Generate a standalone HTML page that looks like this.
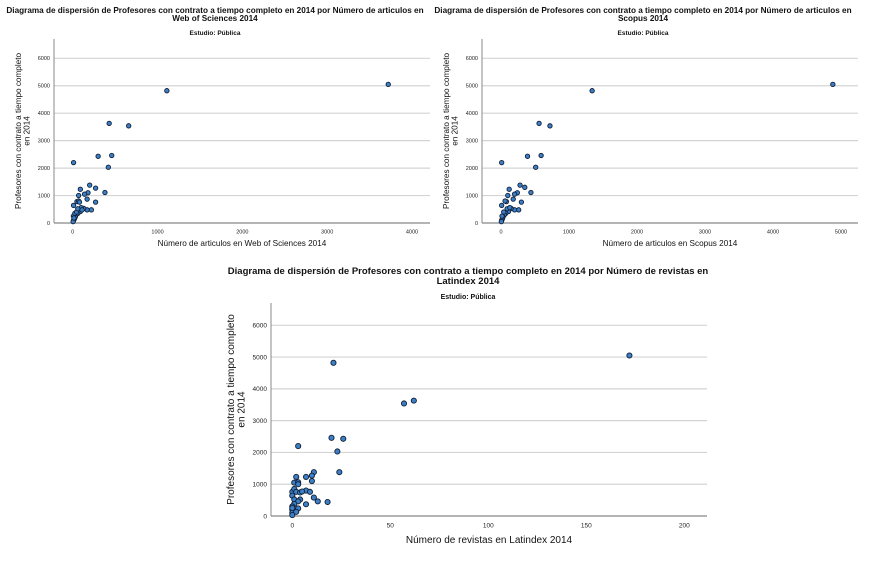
<!DOCTYPE html>
<html><head><meta charset="utf-8">
<style>
html,body{margin:0;padding:0;background:#fff;}
svg{display:block;font-family:"Liberation Sans",Arial,sans-serif;}
</style></head>
<body>
<svg id="root" width="890" height="575" viewBox="0 0 890 575"></svg>
<script>
// Chart 1: Web of Sciences
const wosX = [3720,1110,430,660,300,460,420,10,380,200,270,180,140,90,70,50,70,80,170,270,10,220,170,130,100,90,60,40,30,20,10,5,8,15,25,45,60,110];
const wosY = [5050,4820,3630,3540,2430,2460,2030,2200,1110,1380,1270,1100,1050,1230,1000,780,800,760,870,760,640,480,480,530,560,420,350,300,220,150,100,50,250,180,350,400,520,480];
const wosXTicks = [0,1000,2000,3000,4000];
// Chart 2: Scopus
const scoX = [4880,1340,560,720,390,590,510,10,440,280,350,240,200,120,100,80,60,180,300,10,260,200,150,110,70,50,30,20,10,5,15,40,90,130];
const scoY = [5050,4820,3630,3540,2430,2460,2030,2200,1110,1380,1300,1100,1050,1230,1000,780,800,870,760,640,480,480,530,420,350,300,220,150,100,50,250,400,520,560];
const scoXTicks = [0,1000,2000,3000,4000,5000];
// Chart 3: Latindex
const latX = [172,21,57,62,20,26,23,3,24,11,10,10,7,2,1,3,3,0,1,2,4,7,9,5,0,1,4,3,11,13,18,7,1,3,0,0,1,0,2,0,0];
const latY = [5050,4820,3540,3630,2460,2430,2030,2200,1380,1380,1270,1100,1230,1230,1050,1060,1000,760,850,760,740,800,760,770,640,520,520,460,580,460,440,370,380,240,300,200,150,100,130,30,250];
const latXTicks = [0,50,100,150,200];
const yTicks = [0,1000,2000,3000,4000,5000,6000];

const NS = "http://www.w3.org/2000/svg";
const root = document.getElementById('root');
function mk(tag, attrs, parent, text){
  const e = document.createElementNS(NS, tag);
  for (const k in attrs) e.setAttribute(k, attrs[k]);
  if (text !== undefined) e.textContent = text;
  (parent||root).appendChild(e);
  return e;
}

function chart(c, xs, ys, xTicks){
  const g = mk('g', {});
  
  
  const sx = v => c.x0 + (v - xTicks[0]) / (xTicks[xTicks.length-1] - xTicks[0]) * (c.x1 - c.x0);
  const sy = v => c.y0 - v / 6000 * (c.y0 - c.y6);
  // titles
  c.title.forEach((t, i) => {
    const e = mk('text', {x:c.cx, y:c.ty + i*c.tls, 'text-anchor':'middle', 'font-size':c.tfs, 'font-weight':'bold', fill:'#111'}, g, t);
    
    
  });
  const st = mk('text', {x:c.cx, y:c.sty, 'text-anchor':'middle', 'font-size':c.sfs, 'font-weight':'bold', fill:'#111'}, g, 'Estudio: Pública');
  
  
  // gridlines
  yTicks.forEach(v => {
    if (v > 0) {
      const l = mk('line', {x1:c.ax, x2:c.right, y1:sy(v), y2:sy(v), stroke:'#d4d4d4', 'stroke-width':1.2}, g);
      
      
    }
    const t = mk('text', {x:c.ax - 4, y:sy(v) + c.kfs*0.35, 'text-anchor':'end', 'font-size':c.kfs, fill:'#222'}, g, String(v));
    
    
  });
  // axes
  const ya = mk('line', {x1:c.ax, x2:c.ax, y1:c.atop, y2:c.y0, stroke:'#888', 'stroke-width':1}, g);
  
  
  const xa = mk('line', {x1:c.ax, x2:c.right, y1:c.y0, y2:c.y0, stroke:'#888', 'stroke-width':1.2}, g);
  
  
  xTicks.forEach(v => {
    const t = mk('text', {x:sx(v), y:c.y0 + c.kfs + 5, 'text-anchor':'middle', 'font-size':c.kfs, fill:'#222'}, g, String(v));
    
    
  });
  const xl = mk('text', {x:(c.ax + c.right)/2, y:c.xly, 'text-anchor':'middle', 'font-size':c.afs, fill:'#111'}, g, c.xlabel);
  
  
  const ylc = (c.atop + c.y0)/2;
  const yl = mk('text', {transform:`translate(${c.ylx},${ylc}) rotate(-90)`, 'text-anchor':'middle', 'font-size':c.afs, fill:'#111'}, g);
  
  
  mk('tspan', {x:0, dy:0}, yl, 'Profesores con contrato a tiempo completo');
  mk('tspan', {x:0, dy:c.afs*1.05}, yl, 'en 2014');
  // points
  xs.forEach((xv, i) => {
    const p = mk('circle', {cx:sx(xv), cy:sy(ys[i]), r:c.r, fill:'#3d7fc6', stroke:'#0f1f36', 'stroke-width':0.9}, g);
    
    
  });
}

chart({name:'scatter-wos', x0:72.7, x1:412, y0:223, y6:58.3, ax:54, atop:39, right:430,
  cx:215, ty:13, tls:8, tfs:8.2, sty:35, sfs:6.5, kfs:5.5, afs:8.2, xly:246, ylx:21, r:2.2,
  title:['Diagrama de dispersión de Profesores con contrato a tiempo completo en 2014 por Número de articulos en','Web of Sciences 2014'],
  xlabel:'Número de articulos en Web of Sciences 2014'}, wosX, wosY, wosXTicks);

chart({name:'scatter-scopus', x0:501, x1:841, y0:223, y6:58.3, ax:482, atop:39, right:858,
  cx:643, ty:13, tls:8, tfs:8.2, sty:35, sfs:6.5, kfs:5.5, afs:8.2, xly:246, ylx:449, r:2.2,
  title:['Diagrama de dispersión de Profesores con contrato a tiempo completo en 2014 por Número de articulos en','Scopus 2014'],
  xlabel:'Número de articulos en Scopus 2014'}, scoX, scoY, scoXTicks);

chart({name:'scatter-latindex', x0:292.3, x1:684.3, y0:516, y6:325.3, ax:271, atop:303, right:707,
  cx:468, ty:274, tls:10, tfs:9.5, sty:299, sfs:7, kfs:6.5, afs:10, xly:543, ylx:234, r:2.6,
  title:['Diagrama de dispersión de Profesores con contrato a tiempo completo en 2014 por Número de revistas en','Latindex 2014'],
  xlabel:'Número de revistas en Latindex 2014'}, latX, latY, latXTicks);
</script>
</body></html>
